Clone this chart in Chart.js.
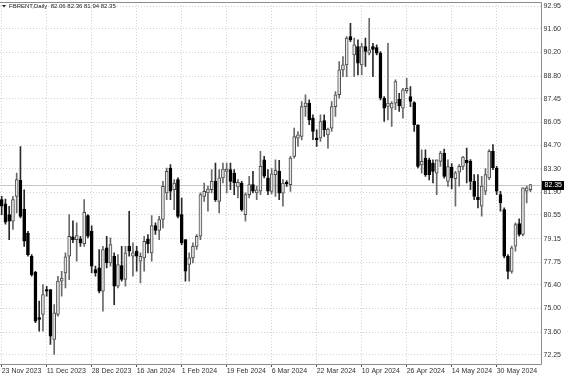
<!DOCTYPE html>
<html>
<head>
<meta charset="utf-8">
<script src="https://cdn.jsdelivr.net/npm/chart.js@4.4.1/dist/chart.umd.min.js"></script>
<style>
    html, body { margin: 0; padding: 0; background: #fff; }
    canvas { display: block; }
</style>
</head>
<body>
<canvas id="brentChart" width="564" height="376"></canvas>
<script>
const symbol = 'FBRENT,Daily';

const dates = [
    '23 Nov 2023', '24 Nov 2023', '27 Nov 2023', '28 Nov 2023', '29 Nov 2023', '30 Nov 2023',
    '1 Dec 2023', '4 Dec 2023', '5 Dec 2023', '6 Dec 2023', '7 Dec 2023', '8 Dec 2023', '11 Dec 2023', '12 Dec 2023',
    '13 Dec 2023', '14 Dec 2023', '15 Dec 2023', '18 Dec 2023', '19 Dec 2023', '20 Dec 2023', '21 Dec 2023',
    '22 Dec 2023', '26 Dec 2023', '27 Dec 2023', '28 Dec 2023', '29 Dec 2023',
    '2 Jan 2024', '3 Jan 2024', '4 Jan 2024', '5 Jan 2024', '8 Jan 2024', '9 Jan 2024', '10 Jan 2024', '11 Jan 2024',
    '12 Jan 2024', '15 Jan 2024', '16 Jan 2024', '17 Jan 2024', '18 Jan 2024', '19 Jan 2024', '22 Jan 2024',
    '23 Jan 2024', '24 Jan 2024', '25 Jan 2024', '26 Jan 2024', '29 Jan 2024', '30 Jan 2024', '31 Jan 2024',
    '1 Feb 2024', '2 Feb 2024', '5 Feb 2024', '6 Feb 2024', '7 Feb 2024', '8 Feb 2024', '9 Feb 2024', '12 Feb 2024',
    '13 Feb 2024', '14 Feb 2024', '15 Feb 2024', '16 Feb 2024', '19 Feb 2024', '20 Feb 2024', '21 Feb 2024',
    '22 Feb 2024', '23 Feb 2024', '26 Feb 2024', '27 Feb 2024', '28 Feb 2024', '29 Feb 2024',
    '1 Mar 2024', '4 Mar 2024', '5 Mar 2024', '6 Mar 2024', '7 Mar 2024', '8 Mar 2024', '11 Mar 2024', '12 Mar 2024',
    '13 Mar 2024', '14 Mar 2024', '15 Mar 2024', '18 Mar 2024', '19 Mar 2024', '20 Mar 2024', '21 Mar 2024',
    '22 Mar 2024', '25 Mar 2024', '26 Mar 2024', '27 Mar 2024', '28 Mar 2024',
    '1 Apr 2024', '2 Apr 2024', '3 Apr 2024', '4 Apr 2024', '5 Apr 2024', '8 Apr 2024', '9 Apr 2024', '10 Apr 2024',
    '11 Apr 2024', '12 Apr 2024', '15 Apr 2024', '16 Apr 2024', '17 Apr 2024', '18 Apr 2024', '19 Apr 2024',
    '22 Apr 2024', '23 Apr 2024', '24 Apr 2024', '25 Apr 2024', '26 Apr 2024', '29 Apr 2024', '30 Apr 2024',
    '1 May 2024', '2 May 2024', '3 May 2024', '6 May 2024', '7 May 2024', '8 May 2024', '9 May 2024', '10 May 2024',
    '13 May 2024', '14 May 2024', '15 May 2024', '16 May 2024', '17 May 2024', '20 May 2024', '21 May 2024',
    '22 May 2024', '23 May 2024', '24 May 2024', '27 May 2024', '28 May 2024', '29 May 2024', '30 May 2024', '31 May 2024',
    '3 Jun 2024', '4 Jun 2024', '5 Jun 2024', '6 Jun 2024', '7 Jun 2024', '10 Jun 2024', '11 Jun 2024', '12 Jun 2024'
];

const opens = [
    81.46, 81.22, 80.57, 80.18, 81.66, 82.61, 80.90, 79.48, 78.10, 77.15,
    74.45, 74.64, 76.12, 76.12, 73.16, 74.64, 76.62, 77.11, 78.10, 79.25,
    79.09, 79.13, 78.85, 80.51, 79.58, 77.31, 77.41, 76.02, 78.60, 77.70,
    78.10, 76.32, 77.55, 76.72, 78.69, 78.10, 78.40, 77.80, 78.00, 79.13,
    78.30, 79.92, 79.64, 80.28, 81.86, 83.34, 82.05, 82.65, 80.57, 79.09,
    77.61, 78.00, 78.69, 79.29, 81.66, 81.86, 82.05, 82.55, 81.36, 82.75,
    83.14, 83.24, 83.04, 82.21, 82.45, 80.57, 81.76, 82.35, 81.86, 81.96,
    83.83, 82.75, 81.95, 82.95, 83.14, 81.85, 82.50, 82.35, 84.03, 85.11,
    85.21, 86.99, 87.19, 86.30, 85.12, 85.12, 86.16, 85.31, 85.71, 86.99,
    87.69, 89.17, 89.47, 91.15, 90.06, 90.55, 89.46, 90.55, 90.16, 90.55,
    90.49, 90.16, 87.49, 87.00, 86.90, 87.19, 87.43, 86.90, 87.94, 87.59,
    87.23, 85.91, 83.53, 83.93, 83.83, 83.63, 83.04, 83.73, 84.23, 82.55,
    83.40, 82.70, 83.09, 83.44, 83.80, 83.74, 82.55, 81.62, 81.07, 81.96,
    82.75, 84.33, 83.34, 81.76, 80.87, 78.10, 77.20, 78.70, 80.04, 79.39,
    81.96, 82.06
];

const highs = [
    81.66, 81.50, 81.07, 81.66, 83.04, 84.62, 82.05, 79.58, 78.20, 77.21,
    75.43, 76.42, 76.32, 76.12, 75.23, 76.91, 77.21, 78.30, 80.57, 80.20,
    80.08, 79.29, 81.46, 80.57, 79.90, 77.51, 78.50, 78.69, 79.29, 79.19,
    78.30, 78.20, 78.69, 78.69, 80.77, 78.89, 78.69, 78.30, 79.29, 79.39,
    80.51, 80.08, 80.47, 82.55, 83.34, 83.54, 82.65, 82.75, 81.56, 79.09,
    78.30, 78.89, 79.39, 81.86, 82.45, 82.25, 83.24, 83.64, 83.24, 83.64,
    83.64, 83.64, 83.24, 82.65, 82.55, 81.86, 82.85, 83.14, 82.25, 84.33,
    84.03, 83.24, 83.30, 83.83, 83.80, 82.65, 82.60, 84.03, 85.71, 85.50,
    87.29, 87.69, 87.39, 86.50, 85.61, 86.50, 86.50, 85.71, 87.29, 87.88,
    89.66, 89.96, 91.15, 91.94, 91.05, 90.95, 90.75, 91.05, 92.23, 90.75,
    90.65, 90.26, 87.59, 90.75, 87.29, 88.58, 87.78, 88.08, 88.67, 88.18,
    87.29, 85.91, 84.42, 84.42, 83.93, 83.83, 83.83, 84.33, 84.46, 83.83,
    83.60, 83.15, 83.54, 84.03, 84.53, 83.84, 82.95, 82.95, 82.85, 83.30,
    84.43, 84.73, 83.44, 81.96, 80.97, 78.20, 78.70, 80.08, 80.32, 82.16,
    82.26, 82.36
];

const lows = [
    80.57, 80.00, 79.09, 79.70, 80.67, 80.37, 78.69, 78.10, 76.91, 74.15,
    73.65, 73.65, 75.73, 72.86, 72.27, 74.54, 75.73, 76.22, 76.71, 78.90,
    77.80, 78.69, 78.69, 79.19, 77.11, 76.91, 75.92, 74.84, 77.41, 77.51,
    75.23, 76.22, 76.62, 76.32, 78.10, 76.91, 77.21, 76.52, 77.21, 78.30,
    77.80, 79.39, 79.09, 79.78, 81.46, 81.46, 80.87, 80.37, 78.79, 76.62,
    76.62, 77.70, 78.50, 79.09, 81.36, 80.77, 81.86, 81.36, 80.67, 82.45,
    81.86, 82.05, 81.76, 81.56, 80.77, 80.18, 81.56, 81.86, 81.46, 81.76,
    82.75, 81.76, 81.80, 81.66, 81.46, 81.07, 82.25, 81.95, 83.93, 84.62,
    85.01, 86.40, 85.91, 85.02, 84.62, 84.92, 85.21, 84.52, 85.51, 86.40,
    87.49, 88.77, 88.77, 90.85, 88.77, 88.87, 88.87, 89.37, 90.06, 88.77,
    90.06, 87.39, 86.10, 86.20, 85.81, 86.80, 86.70, 86.30, 87.79, 86.99,
    85.51, 83.34, 83.04, 82.84, 82.64, 82.45, 81.76, 83.43, 82.74, 82.25,
    82.10, 81.07, 82.26, 83.24, 82.45, 82.06, 81.46, 80.97, 80.48, 81.76,
    82.65, 83.24, 81.76, 80.77, 78.00, 76.76, 77.10, 78.40, 79.29, 79.30,
    81.27, 81.94
];

const closes = [
    81.07, 80.12, 80.18, 81.46, 82.65, 80.47, 78.99, 78.20, 77.01, 74.25,
    74.35, 75.83, 76.02, 73.36, 74.74, 76.62, 76.81, 78.06, 79.29, 79.09,
    79.33, 78.89, 80.71, 79.29, 77.51, 77.11, 76.02, 78.50, 77.70, 78.79,
    76.32, 77.61, 76.72, 78.30, 78.40, 78.30, 78.10, 78.10, 78.99, 78.85,
    79.92, 79.64, 80.28, 82.25, 83.14, 81.96, 82.45, 80.47, 78.89, 77.21,
    78.00, 78.69, 79.29, 81.76, 81.96, 82.09, 82.55, 81.46, 82.75, 83.28,
    83.28, 82.55, 82.45, 82.49, 80.87, 81.76, 82.35, 81.96, 82.05, 83.44,
    82.85, 81.96, 83.00, 83.20, 81.85, 82.45, 82.40, 83.93, 85.21, 85.31,
    86.99, 87.19, 86.20, 85.51, 85.02, 86.10, 85.61, 85.65, 86.99, 87.69,
    89.17, 89.47, 91.05, 90.95, 90.65, 89.56, 90.55, 90.26, 90.36, 90.39,
    90.16, 87.49, 86.90, 87.20, 87.19, 88.48, 87.03, 87.98, 88.08, 87.29,
    85.91, 83.43, 83.73, 82.94, 82.94, 83.14, 83.83, 84.23, 82.84, 83.43,
    82.75, 83.05, 83.44, 83.99, 83.64, 82.55, 81.66, 81.46, 82.26, 82.95,
    84.33, 83.34, 81.96, 81.27, 78.10, 77.20, 78.60, 79.98, 79.39, 82.16,
    82.16, 82.35
];

const xTickLabels = ['23 Nov 2023', '11 Dec 2023', '28 Dec 2023', '16 Jan 2024', '1 Feb 2024', '19 Feb 2024',
    '6 Mar 2024', '22 Mar 2024', '10 Apr 2024', '26 Apr 2024', '14 May 2024', '30 May 2024'];
const yTicks = [72.25, 73.60, 75.00, 76.40, 77.75, 79.15, 80.55, 81.90, 83.30, 84.70,
    86.05, 87.45, 88.80, 90.20, 91.60, 92.95];

const isUp = i => closes[i] >= opens[i];
const last = closes.length - 1;

// frame, bid line, price box and header like the terminal draws them
const terminalFrame = {
    id: 'terminalFrame',
    beforeDatasetsDraw(chart) {
        const { ctx, chartArea: a, scales: { y } } = chart;
        const py = Math.round(y.getPixelForValue(closes[last])) + 0.5;
        ctx.save();
        ctx.strokeStyle = '#c6c6c6';
        ctx.lineWidth = 1;
        ctx.beginPath();
        ctx.moveTo(a.left, py);
        ctx.lineTo(a.right, py);
        ctx.stroke();
        ctx.restore();
    },
    afterDraw(chart) {
        const { ctx, chartArea: a, scales: { y } } = chart;
        const r = Math.round(a.right) + 0.5;
        const t = Math.round(a.top) + 0.5;
        const b = Math.round(a.bottom) + 0.5;
        ctx.save();
        ctx.strokeStyle = '#8c8c8c';
        ctx.lineWidth = 1;
        ctx.beginPath();
        ctx.moveTo(a.left, t);
        ctx.lineTo(r, t);
        ctx.lineTo(r, b);
        ctx.lineTo(a.left, b);
        ctx.stroke();

        const py = Math.round(y.getPixelForValue(closes[last]));
        ctx.fillStyle = '#000';
        ctx.fillRect(r + 0.5, py - 4, chart.width - r, 9);
        ctx.fillStyle = '#fff';
        ctx.font = '7px "Liberation Sans"';
        ctx.textBaseline = 'middle';
        ctx.fillText(closes[last].toFixed(2), r + 3, py + 0.5);

        ctx.fillStyle = '#222';
        ctx.beginPath();
        ctx.moveTo(2, 5);
        ctx.lineTo(6, 5);
        ctx.lineTo(4, 7.5);
        ctx.closePath();
        ctx.fill();
        ctx.font = '6px "Liberation Sans"';
        const ohlc = [opens, highs, lows, closes].map(s => s[last].toFixed(2)).join(' ');
        ctx.fillText(symbol + '  ' + ohlc, 9, 6.5);
        ctx.restore();
    }
};

Chart.defaults.font.family = '"Liberation Sans", Arial, sans-serif';
Chart.defaults.font.size = 7;
Chart.defaults.color = '#333';

const ctx = document.getElementById('brentChart').getContext('2d');
const brentChart = new Chart(ctx, {
    type: 'bar',
    data: {
        datasets: [{
            label: 'body',
            data: dates.map((d, i) => ({ x: i, y: [opens[i], closes[i]] })),
            grouped: false,
            barThickness: 3,
            minBarLength: 1,
            borderWidth: 1,
            borderSkipped: false,
            backgroundColor: c => isUp(c.dataIndex) ? '#e6e6e6' : '#000000',
            borderColor: c => isUp(c.dataIndex) ? '#4c4c4c' : '#000000'
        }, {
            label: 'wick',
            data: dates.map((d, i) => ({ x: i, y: [lows[i], highs[i]] })),
            grouped: false,
            barThickness: 1,
            borderWidth: 0,
            backgroundColor: c => isUp(c.dataIndex) ? '#6a6a6a' : '#2a2a2a'
        }]
    },
    options: {
        responsive: false,
        animation: false,
        devicePixelRatio: 1,
        layout: { padding: { top: 2, left: 0, right: 0, bottom: 0 } },
        plugins: { legend: { display: false }, tooltip: { enabled: false } },
        scales: {
            x: {
                type: 'linear',
                min: -0.45,
                max: 143.68,
                offset: false,
                afterBuildTicks: s => { s.ticks = xTickLabels.map(l => ({ value: dates.indexOf(l) })); },
                afterFit: s => { s.height = 12; s.paddingLeft = 0; s.paddingRight = 0; },
                ticks: { align: 'start', autoSkip: false, maxRotation: 0, padding: 0, callback: v => dates[v] },
                grid: { offset: false, color: '#d2d2d2', tickColor: '#555', tickLength: 3, tickBorderDash: [] },
                border: { display: false, dash: [1, 2] }
            },
            y: {
                position: 'right',
                min: 71.70,
                max: 93.20,
                beginAtZero: false,
                afterBuildTicks: s => { s.ticks = yTicks.map(v => ({ value: v })); },
                afterFit: s => { s.width = 23.5; s.paddingTop = 0; s.paddingBottom = 0; },
                ticks: { padding: 3, callback: v => v.toFixed(2) },
                grid: { color: '#d2d2d2', drawTicks: false },
                border: { display: false, dash: [1, 2] }
            }
        }
    },
    plugins: [terminalFrame]
});
</script>
</body>
</html>
